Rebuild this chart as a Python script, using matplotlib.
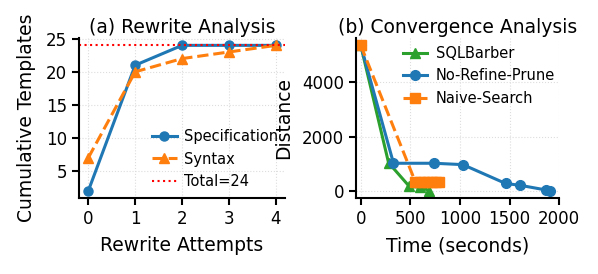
import numpy as np
import matplotlib
matplotlib.use("Agg")
import matplotlib.pyplot as plt

# (a) rewrite analysis
attempts = [0, 1, 2, 3, 4]
spec_counts = [2, 21, 24, 24, 24]
syntax_counts = [7, 20, 22, 23, 24]
total_templates = 24

# (b) convergence analysis
barber_t = [0, 280, 490, 600, 690]
barber_d = [5350, 1050, 180, 150, 30]
norefine_t = [0, 330, 740, 1030, 1460, 1610, 1870, 1910]
norefine_d = [5350, 1030, 1030, 980, 290, 220, 50, 20]
naive_t = [0, 550, 600, 640, 680, 720, 760, 790]
naive_d = [5350, 350, 340, 350, 350, 350, 350, 350]

blue = '#1f77b4'
orange = '#ff7f0e'
green = '#2ca02c'

fig = plt.figure(figsize=(5.98, 2.74), dpi=100)
ax1 = fig.add_axes([0.132, 0.277, 0.345, 0.584])
ax2 = fig.add_axes([0.595, 0.277, 0.340, 0.584])

for ax in (ax1, ax2):
    ax.spines['top'].set_visible(False)
    ax.spines['right'].set_visible(False)
    ax.spines['left'].set_linewidth(1.5)
    ax.spines['bottom'].set_linewidth(1.5)
    ax.grid(True, linestyle=':', color='#dddddd', linewidth=0.8)
    ax.tick_params(labelsize=12, width=1.5, length=5)

ax1.plot(attempts, spec_counts, '-o', color=blue, lw=2.2, ms=6.5, label='Specification')
ax1.plot(attempts, syntax_counts, '--^', color=orange, lw=2.2, ms=7.5, label='Syntax')
ax1.axhline(total_templates, color='red', linestyle=':', lw=1.5, label='Total=%d' % total_templates)
ax1.set_xticks(attempts)
ax1.set_yticks([5, 10, 15, 20, 25])
ax1.set_xlabel('Rewrite Attempts', fontsize=13.5, labelpad=6)
ax1.set_ylabel('Cumulative Templates', fontsize=13.5, labelpad=7)
ax1.set_title('(a) Rewrite Analysis', fontsize=13.5, pad=4)
ax1.legend(loc='upper left', frameon=False, fontsize=10.5, handlelength=1.7,
           borderpad=0, borderaxespad=0, handletextpad=0.5,
           bbox_to_anchor=(0.354, 0.43))

ax2.plot(barber_t, barber_d, '-^', color=green, lw=2.2, ms=7.5, label='SQLBarber')
ax2.plot(norefine_t, norefine_d, '-o', color=blue, lw=2.2, ms=7, label='No-Refine-Prune')
ax2.plot(naive_t, naive_d, '--s', color=orange, lw=2.2, ms=7, label='Naive-Search')
ax2.set_xlim(-50, 2000)
ax2.set_xticks([0, 500, 1000, 1500, 2000])
ax2.set_yticks([0, 2000, 4000])
ax2.set_xlabel('Time (seconds)', fontsize=13.5, labelpad=6)
ax2.set_ylabel('Distance', fontsize=13.5)
ax2.yaxis.set_label_coords(-0.31, 0.5)
ax2.set_title('(b) Convergence Analysis', fontsize=13.5, pad=4)
ax2.legend(loc='upper left', frameon=False, fontsize=10.5, handlelength=1.7,
           borderpad=0, borderaxespad=0, handletextpad=0.6,
           bbox_to_anchor=(0.23, 0.95))

fig.savefig('out.png', dpi=100)
